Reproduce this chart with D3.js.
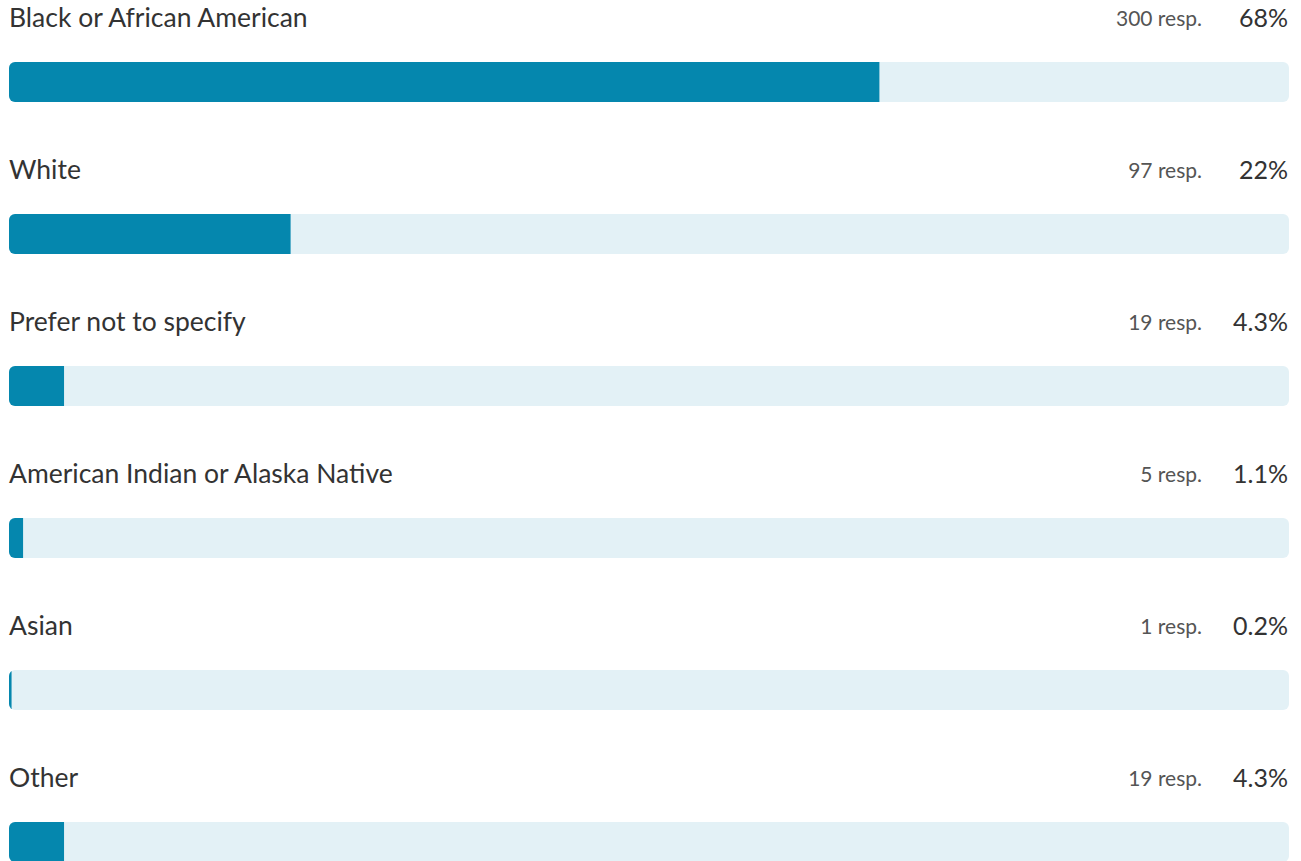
<!DOCTYPE html>
<html>
<head>
<meta charset="utf-8">
<script src="https://cdn.jsdelivr.net/npm/d3@7"></script>
<style>
  body { margin: 0; background: #fff; }
  svg { display: block; }
</style>
</head>
<body>
<script>
// answers, response counts and shares (%)
var categories = ["Black or African American", "White", "Prefer not to specify",
                  "American Indian or Alaska Native", "Asian", "Other"];
var responses = [300, 97, 19, 5, 1, 19];
var percents = [68, 22, 4.3, 1.1, 0.2, 4.3];

var width = 1301, height = 861;
var left = 9, right = 1289;
var rowH = 152, barTop = 62, barH = 40;

var svg = d3.select("body").append("svg")
    .attr("width", width)
    .attr("height", height)
    .style("font-family", "'Source Sans Pro', Lato, 'Noto Sans', sans-serif");

var x = d3.scaleLinear().domain([0, 100]).range([left, right]);
var y = d3.scaleBand().domain(d3.range(categories.length)).range([0, rowH * categories.length]);

var rows = svg.selectAll("g.row")
    .data(categories)
    .enter().append("g")
    .attr("class", "row")
    .attr("transform", function(d, i) { return "translate(0," + y(i) + ")"; });

// clip so the filled part picks up the rounded track ends
rows.append("clipPath")
    .attr("id", function(d, i) { return "clip" + i; })
    .append("rect")
    .attr("x", x(0)).attr("y", barTop)
    .attr("width", x(100) - x(0)).attr("height", barH)
    .attr("rx", 6);

rows.append("rect")
    .attr("x", x(0)).attr("y", barTop)
    .attr("width", x(100) - x(0)).attr("height", barH)
    .attr("rx", 6)
    .attr("fill", "#e3f1f6");

rows.append("rect")
    .attr("clip-path", function(d, i) { return "url(#clip" + i + ")"; })
    .attr("x", x(0)).attr("y", barTop)
    .attr("width", function(d, i) { return x(percents[i]) - x(0); })
    .attr("height", barH)
    .attr("fill", "#0587ae");

rows.append("text")
    .attr("x", left).attr("y", 27)
    .style("font-size", "26.5px")
    .style("fill", "#333")
    .text(function(d) { return d; });

rows.append("text")
    .attr("x", right - 1).attr("y", 27)
    .attr("text-anchor", "end")
    .style("font-size", "25px")
    .style("fill", "#333")
    .text(function(d, i) { return percents[i] + "%"; });

rows.append("text")
    .attr("x", 1202).attr("y", 26)
    .attr("text-anchor", "end")
    .style("font-size", "21px")
    .style("fill", "#555")
    .text(function(d, i) { return responses[i] + " resp."; });
</script>
</body>
</html>
